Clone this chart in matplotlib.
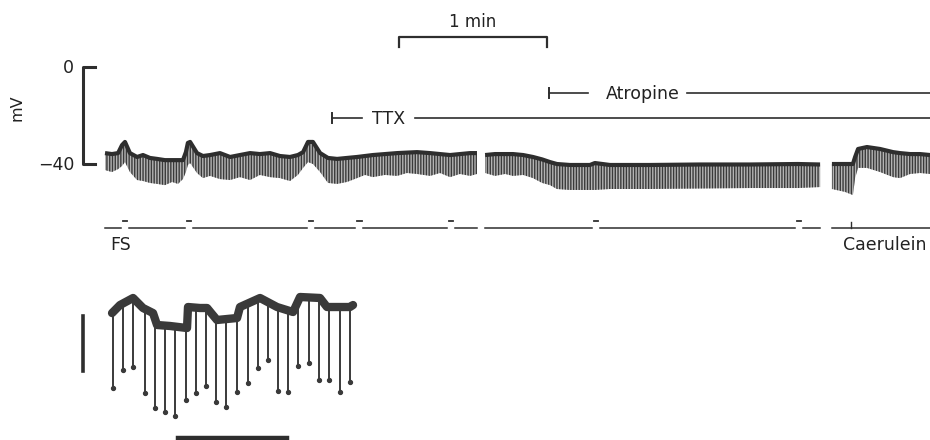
import numpy as np
import matplotlib
matplotlib.use("Agg")
import matplotlib.pyplot as plt

plt.rcParams['font.family'] = ['DejaVu Sans']
plt.rcParams['hatch.linewidth'] = 1.0

# ---------------- main recording (time in s, membrane potential in mV) ----------------
# segment A (control + TTX)
segA_t = [0, 2.8, 5.3, 6.9, 8.1, 10.1, 13.0, 15.4, 18.2, 21.1, 24.3, 27.2, 29.6, 31.6, 32.8, 33.6,
          34.5, 37.3, 39.7, 42.6, 46.6, 50.7, 54.7, 58.8, 62.8, 66.9, 70.9, 75.0, 78.2, 80.3, 82.3,
          84.3, 87.2, 90.4, 94.1, 98.1, 102.2, 105.4, 108.6, 113.5, 118.4, 122.4, 126.5, 131.8,
          135.8, 139.9, 143.9, 148.0, 150.8]
segA_top = [-35.5, -35.9, -35.5, -32.2, -30.9, -35.5, -37.1, -36.3, -37.5, -37.9, -38.4, -38.4,
            -38.4, -38.4, -35.1, -31.3, -30.9, -35.5, -36.7, -36.3, -35.5, -37.1, -36.3, -35.5,
            -35.9, -35.5, -36.7, -37.1, -36.3, -35.1, -30.9, -30.9, -35.5, -37.5, -37.9, -37.5,
            -37.1, -36.7, -36.3, -35.9, -35.5, -35.3, -35.1, -35.5, -35.9, -36.3, -35.9, -35.5, -35.5]
segA_bot = [-42.5, -43.3, -42.1, -40.8, -39.2, -43.3, -46.6, -47.0, -47.8, -48.2, -48.7, -47.4,
            -48.2, -46.2, -43.3, -40.4, -39.6, -43.7, -45.8, -44.9, -46.2, -46.6, -45.4, -46.6,
            -44.5, -45.4, -45.8, -47.0, -44.5, -41.6, -39.2, -40.0, -43.3, -47.8, -48.2, -47.4,
            -45.8, -44.5, -45.4, -44.5, -44.9, -43.7, -44.1, -44.9, -43.7, -45.4, -44.1, -44.9, -44.1]
# segment B (atropine)
segB_t = [154.1, 158.1, 162.2, 165.4, 169.5, 173.5, 177.2, 180.4, 183.2, 188.5, 196.6, 198.6,
          204.7, 220.9, 241.2, 261.5, 280.9, 289.9]
segB_top = [-36.3, -35.9, -35.9, -35.9, -36.3, -37.1, -38.1, -39.2, -40.0, -40.4, -40.4, -39.6,
            -40.4, -40.4, -40.2, -40.2, -40.0, -40.2]
segB_bot = [-43.7, -44.9, -44.1, -44.9, -44.5, -45.8, -47.8, -48.7, -50.3, -50.7, -50.7, -50.7,
            -50.3, -50.3, -50.1, -49.9, -49.9, -49.5]
# segment C (caerulein)
segC_t = [294.7, 300.0, 303.2, 304.1, 305.3, 308.9, 314.2, 319.5, 322.3, 326.4, 330.4, 334.5]
segC_top = [-40.0, -40.0, -40.0, -37.1, -33.8, -33.0, -33.8, -35.1, -35.5, -35.9, -35.9, -36.3]
segC_bot = [-50.3, -51.5, -52.8, -45.8, -41.6, -41.6, -43.3, -45.4, -45.8, -44.1, -43.7, -44.1]

# field-stimulus event marks (s) and caerulein application (s)
fs_events = [8.1, 34.1, 83.4, 103.1, 140.2, 199.0, 281.4]
caerulein_time = 302.6
ttx_start = 92.0
atropine_start = 180.0

# ---------------- expanded inset (time in s, relative mV) ----------------
ins_top_t = [0, 0.73, 1.93, 2.84, 3.76, 4.13, 5.32, 6.88, 6.97, 8.07, 8.72, 9.17, 9.63, 11.47,
             11.74, 13.58, 15.14, 16.61, 17.25, 19.08, 19.72, 21.83, 22.11]
ins_top_v = [-1.1, 0.36, 1.64, -0.18, -1.1, -3.27, -3.45, -3.82, 0, -0.18, -0.18, -1.27, -2.36,
             -2.0, 0, 1.64, 0, -0.91, 1.82, 1.64, 0, 0, 0.36]
ins_spike_t = [0.12, 1.04, 1.95, 3.03, 3.94, 4.86, 5.78, 6.79, 7.71, 8.62, 9.54, 10.46, 11.44,
               12.45, 13.42, 14.34, 15.26, 16.17, 17.09, 18.10, 19.02, 19.94, 20.92, 21.83]
ins_spike_v = [-14.8, -11.5, -10.9, -15.7, -18.4, -19.0, -19.9, -16.9, -15.7, -14.4, -17.2, -18.1,
               -15.4, -13.9, -11.1, -9.6, -15.3, -15.4, -10.7, -10.2, -13.3, -13.3, -15.4, -13.6]

INK = '#2e2e2e'
TXT = '#222222'
FS = 12.5

fig = plt.figure(figsize=(9.3, 4.4), dpi=100)
fig.patch.set_facecolor('white')
ax = fig.add_axes([0, 0, 1, 1])
ax.set_xlim(-42.57, 334.46)
ax.set_ylim(-153.8, 27.63)
ax.axis('off')

segments = [(segA_t, segA_top, segA_bot), (segB_t, segB_top, segB_bot), (segC_t, segC_top, segC_bot)]
for t, top, bot in segments:
    ax.fill_between(t, top, bot, facecolor='#b4b4b4', edgecolor='#3a3a3a',
                    hatch='||||||', linewidth=0)
    ax.plot(t, top, color=INK, lw=3.0, solid_capstyle='butt', solid_joinstyle='round')

# voltage calibration bracket
ax.plot([-4.1, -8.9, -8.9, -4.1], [0, 0, -40, -40], color=INK, lw=2.2)
ax.text(-12.8, -2.5, '0', ha='right', va='baseline', fontsize=FS, color=TXT)
ax.text(-12.2, -42.5, '\u221240', ha='right', va='baseline', fontsize=FS, color=TXT)
ax.text(-35.7, -16.9, 'mV', ha='center', va='center', rotation=90, fontsize=FS - 1, color=TXT)

# 1 min time bar
ax.plot([119.0, 119.0, 179.0, 179.0], [8.2, 12.4, 12.4, 8.2], color=INK, lw=1.6)
ax.text(149.0, 16.6, '1 min', ha='center', va='baseline', fontsize=FS - 0.5, color=TXT)

# TTX bar
y_ttx = -21.0
ax.plot([ttx_start, ttx_start], [y_ttx + 2.2, y_ttx - 2.2], color=INK, lw=1.4)
ax.plot([ttx_start, 104.2], [y_ttx, y_ttx], color=INK, lw=1.2)
ax.text(115.1, -23.5, 'TTX', ha='center', va='baseline', fontsize=FS, color=TXT)
ax.plot([125.7, 334.5], [y_ttx, y_ttx], color=INK, lw=1.2)

# Atropine bar
y_atr = -10.7
ax.plot([atropine_start, atropine_start], [y_atr + 2.2, y_atr - 2.2], color=INK, lw=1.4)
ax.plot([atropine_start, 195.8], [y_atr, y_atr], color=INK, lw=1.2)
ax.text(218.1, -13.0, 'Atropine', ha='center', va='baseline', fontsize=FS, color=TXT)
ax.plot([235.9, 334.5], [y_atr, y_atr], color=INK, lw=1.2)

# stimulus marker channel
y_mark = -66.2
y_dash = -63.7
gap = 1.6
half_dash = 0.9
for t, _, _ in segments:
    start, end = t[0], t[-1]
    ev = [e for e in fs_events if start < e < end]
    pieces = []
    s = start
    for e in ev:
        pieces.append((s, e - gap))
        s = e + gap
    pieces.append((s, end))
    for a, b in pieces:
        ax.plot([a, b], [y_mark, y_mark], color=INK, lw=1.1)
    for e in ev:
        ax.plot([e - half_dash, e + half_dash], [y_dash, y_dash], color=INK, lw=1.3)
ax.plot([caerulein_time, caerulein_time], [y_mark, y_mark + 2.4], color=INK, lw=1.0)
ax.text(2.0, -75.5, 'FS', ha='left', va='baseline', fontsize=FS, color=TXT)
ax.text(299.2, -75.5, 'Caerulein', ha='left', va='baseline', fontsize=FS, color=TXT)

# ---------------- inset ----------------
axi = fig.add_axes([0, 0, 1, 1])
axi.set_xlim(-10.28, 75.05)
axi.set_ylim(-24.18, 55.82)
axi.axis('off')
axi.patch.set_alpha(0)

spike_top = np.interp(ins_spike_t, ins_top_t, ins_top_v)
axi.vlines(ins_spike_t, spike_top, ins_spike_v, color='#3a3a3a', lw=1.4)
axi.plot(ins_spike_t, ins_spike_v, 'o', color='#3a3a3a', ms=2.8)
axi.plot(ins_top_t, ins_top_v, color='#3a3a3a', lw=6.0, solid_joinstyle='round',
         solid_capstyle='round')
# inset calibration bars (10 mV, 10 s)
axi.plot([-2.66, -2.66], [-1.64, -11.64], color=INK, lw=2.6)
axi.plot([6.06, 16.06], [-23.8, -23.8], color=INK, lw=3.2)

fig.savefig('out.png', dpi=100, facecolor='white')
